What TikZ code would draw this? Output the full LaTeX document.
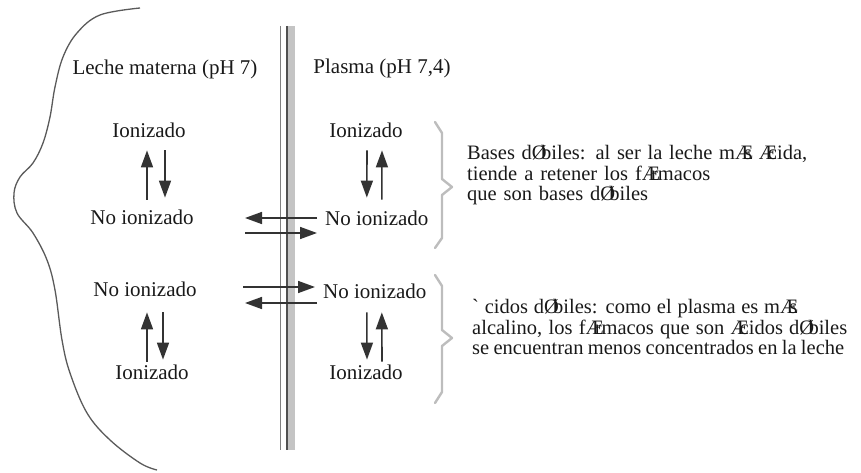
\documentclass[tikz,border=0pt]{standalone}
\usepackage{fontspec}
\setmainfont{Liberation Serif}[Ligatures=TeXOff]
\usetikzlibrary{arrows.meta}
\definecolor{arrowgray}{HTML}{333333}
\definecolor{bracegray}{HTML}{BDBDBD}
\definecolor{membdark}{HTML}{505050}
\definecolor{membband}{HTML}{C4C4C4}
\definecolor{curvegray}{HTML}{5A5A5A}
\newcommand\nAE{\rlap{Æ}\phantom{a}}
\newcommand\nOE{\rlap{Ø}\phantom{e}}
\newcommand\fitline[2]{\makebox[#1][s]{#2}}
\begin{document}
\begin{tikzpicture}[x=1pt,y=-1pt,
  lbl/.style={inner sep=0pt, text=black!90, font=\fontsize{21}{24}\selectfont},
  desc/.style={inner sep=0pt, anchor=west, align=left, text=black!90, font=\fontsize{20.5}{20.5}\selectfont},
  arr/.style={draw=arrowgray, line width=1.6pt, -{Triangle[length=17pt,width=12pt]}},
  bracestyle/.style={draw=bracegray, line width=2.4pt, line join=round, line cap=round},
]
\useasboundingbox (0,0) rectangle (861,473);

% left outline curve
\draw[curvegray, line width=1.3pt] plot[smooth, tension=0.6] coordinates {
  (140,8) (100,15) (77,33) (63,57) (55,87) (50,117) (43,143) (33,163)
  (20,177) (14,193) (17,213) (33,233) (47,260) (55,290) (62,340)
  (70,373) (87,413) (110,440) (140,463) (157,470)};

% membrane
\fill[membband] (287.5,26) rectangle (295,450);
\draw[membdark, line width=1.8pt] (287,26) -- (287,450);
\draw[gray, line width=1pt] (280.5,26) -- (280.5,450);

% titles
\node[lbl] (leche) at (165,69) {Leche materna (pH 7)};
\node[lbl] (plasma) at (382,68) {Plasma (pH 7,4)};

% upper block
\node[lbl] (Li1) at (149,130) {Ionizado};
\node[lbl] (Ln1) at (142,217) {No ionizado};
\node[lbl] (Ri1) at (366,130) {Ionizado};
\node[lbl, anchor=west] (Rn1) at (325,218) {No ionizado};

% lower block
\node[lbl] (Ln2) at (145,289) {No ionizado};
\node[lbl] (Li2) at (152,372) {Ionizado};
\node[lbl, anchor=west] (Rn2) at (323,291) {No ionizado};
\node[lbl] (Ri2) at (366,372) {Ionizado};

% vertical arrows, upper left
\draw[arr] ([xshift=5pt,yshift=9.8pt]Ln1.north) -- ([xshift=-2pt,yshift=-12.8pt]Li1.south);
\draw[arr] ([xshift=16pt,yshift=-12.8pt]Li1.south) -- ([xshift=23pt,yshift=11.8pt]Ln1.north);
% vertical arrows, upper right
\draw[arr] ([xshift=1pt,yshift=-12.8pt]Ri1.south) -- ([xshift=-10pt,yshift=12.8pt]Rn1.north);
\draw[arr] ([xshift=5pt,yshift=10.8pt]Rn1.north) -- ([xshift=16pt,yshift=-12.8pt]Ri1.south);
% vertical arrows, lower left
\draw[arr] ([xshift=-5pt,yshift=2.8pt]Li2.north) -- ([xshift=2pt,yshift=-15.8pt]Ln2.south);
\draw[arr] ([xshift=18pt,yshift=-15.8pt]Ln2.south) -- ([xshift=11pt,yshift=4.8pt]Li2.north);
% vertical arrows, lower right
\draw[arr] ([xshift=-8pt,yshift=-13.8pt]Rn2.south) -- ([xshift=1pt,yshift=4.8pt]Ri2.north);
\draw[arr] ([xshift=16pt,yshift=2.8pt]Ri2.north) -- ([xshift=7pt,yshift=-13.8pt]Rn2.south);

% horizontal arrows across membrane
\coordinate (hL1) at (245,218);
\coordinate (hR1) at (245,233);
\coordinate (hR2) at (243,287);
\coordinate (hL2) at (245,303);
\draw[arr] ([xshift=-8pt]Rn1.west) -- (hL1);
\draw[arr] (hR1) -- ([xshift=-8pt,yshift=-15pt]Rn1.west);
\draw[arr] (hR2) -- ([xshift=-8pt,yshift=4pt]Rn2.west);
\draw[arr] ([xshift=-6pt,yshift=-12pt]Rn2.west) -- (hL2);

% braces
\draw[bracestyle] (435,122) -- (442,133) -- (442,179) -- (452,187) -- (442,195) -- (442,238) -- (435,248);
\draw[bracestyle] (435,275) -- (442,286) -- (442,330) -- (452,338) -- (442,346) -- (442,392) -- (435,403);

% descriptions
\node[desc] (tb) at (467,175.5) {\fitline{340pt}{Bases d\nOE biles: al ser la leche m\nAE s \nAE cida,}\\
  \fitline{243pt}{tiende a retener los f\nAE rmacos}\\
  \fitline{181pt}{que son bases d\nOE biles}};
\node[desc] (ta) at (472,327) {\fitline{325pt}{` cidos d\nOE biles: como el plasma es m\nAE s}\\
  \fitline{375pt}{alcalino, los f\nAE rmacos que son \nAE cidos d\nOE biles}\\
  \fitline{372pt}{se encuentran menos concentrados en la leche}};
\end{tikzpicture}
\end{document}
